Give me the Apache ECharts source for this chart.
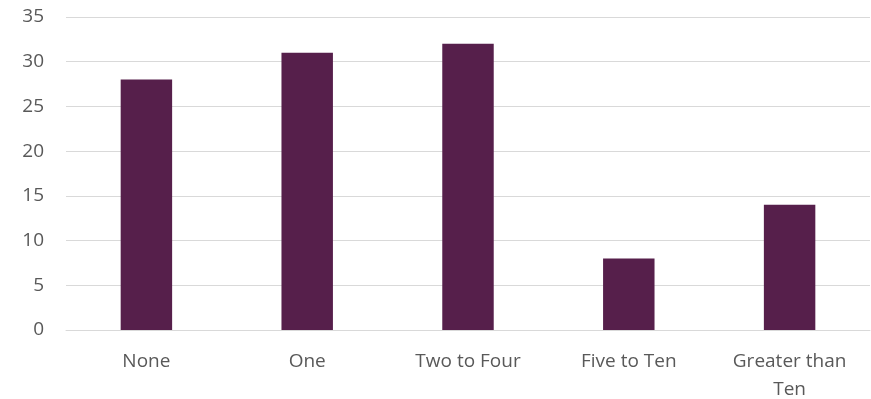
<!DOCTYPE html>
<html><head><meta charset="utf-8">
<script src="https://cdn.jsdelivr.net/npm/echarts@6/dist/echarts.min.js"></script>
<style>html,body{margin:0;padding:0;background:#fff}#c{width:871px;height:399px}</style>
</head><body><div id="c"></div>
<script>
const categories = ["None", "One", "Two to Four", "Five to Ten", "Greater than\nTen"];
const values = [28, 31, 32, 8, 14];
const yTicks = {min: 0, max: 35, interval: 5};
const chart = echarts.init(document.getElementById('c'));
chart.setOption({
  animation: false,
  grid: {left: 66, right: 1, top: 17, bottom: 69, containLabel: false, outerBoundsMode: 'none'},
  xAxis: {
    type: 'category', data: categories,
    axisLine: {show: true, lineStyle: {color: '#d9d9d9', width: 1}},
    axisTick: {show: false},
    axisLabel: {color: '#595959', fontSize: 19, fontFamily: 'Open Sans', margin: 18, lineHeight: 28, interval: 0}
  },
  yAxis: {
    type: 'value', min: yTicks.min, max: yTicks.max, interval: yTicks.interval,
    axisLine: {show: false}, axisTick: {show: false},
    splitLine: {lineStyle: {color: '#d9d9d9', width: 1}},
    axisLabel: {color: '#595959', fontSize: 19, fontFamily: 'Open Sans', margin: 22}
  },
  series: [{type: 'bar', data: values, barWidth: '32%', itemStyle: {color: '#561F4B'}}]
});
</script></body></html>
